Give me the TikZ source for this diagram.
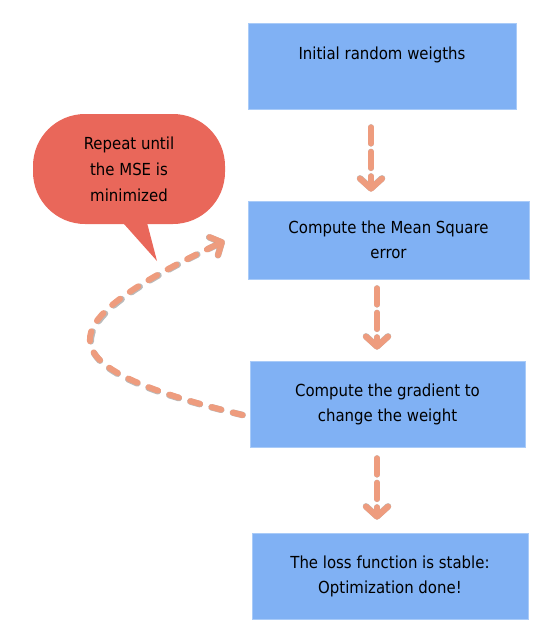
\documentclass[tikz,border=0pt]{standalone}
\usepackage{fontspec}
\setmainfont{DejaVu Sans Condensed}
\usetikzlibrary{arrows.meta}
\definecolor{boxblue}{HTML}{80B1F4}
\definecolor{boxedge}{HTML}{A9CBF8}
\definecolor{bubred}{HTML}{E9675A}
\definecolor{arrorange}{HTML}{EE9C7E}
\tikzset{
  flowbox/.style={fill=boxblue, draw=boxedge, line width=0.8pt, align=center, inner sep=0pt,
    font=\fontsize{16.6}{25}\selectfont},
  vflow/.style={draw=arrorange, line width=6pt, line cap=round, dash pattern=on 16pt off 8.5pt,
    -{Straight Barb[length=10pt,width=22pt,line cap=round,line join=round]}},
  vshadow/.style={draw=black!60, opacity=0.45, line width=6.5pt, line cap=round, dash pattern=on 16pt off 8.5pt,
    -{Straight Barb[length=10pt,width=22pt,line cap=round,line join=round]}},
  loopflow/.style={draw=arrorange, line width=6pt, line cap=round, dash pattern=on 10pt off 12pt,
    -{Straight Barb[length=9pt,width=20pt,line cap=round,line join=round]}},
  loopshadow/.style={draw=black!60, opacity=0.45, line width=6.5pt, line cap=round, dash pattern=on 10pt off 12pt,
    -{Straight Barb[length=9pt,width=20pt,line cap=round,line join=round]}},
}
\begin{document}
\begin{tikzpicture}[x=1pt,y=-1pt]
\useasboundingbox (0,0) rectangle (554,640);
% boxes
\node[flowbox, minimum width=268pt, minimum height=86pt] (b1) at (382,66) {Initial random weigths\\\mbox{}};
\node[flowbox, minimum width=281pt, minimum height=78pt] (b2) at (388.5,240) {Compute the Mean Square\\error};
\node[flowbox, minimum width=275pt, minimum height=86pt] (b3) at (387.5,404) {Compute the gradient to\\change the weight};
\node[flowbox, minimum width=276pt, minimum height=86pt] (b4) at (390,576) {The loss function is stable:\\Optimization done!};
% bubble
\fill[bubred] (116,215) -- (157,261) -- (145,215) -- cycle;
\node[fill=bubred, rounded corners=52pt, minimum width=192pt, minimum height=110pt, align=center,
  inner sep=0pt, font=\fontsize{16.6}{26}\selectfont] (bub) at (129,169) {Repeat until\\the MSE is\\minimized};
% arrow end points
\coordinate (a1s) at ([xshift=-11pt,yshift=-18pt]b1.south);
\coordinate (a1e) at ([xshift=-17.5pt,yshift=9pt]b2.north);
\coordinate (a2s) at ([xshift=-11.5pt,yshift=-9pt]b2.south);
\coordinate (a2e) at ([xshift=-10.5pt,yshift=11pt]b3.north);
\coordinate (a3s) at ([xshift=-10.5pt,yshift=-11pt]b3.south);
\coordinate (a3e) at ([xshift=-13pt,yshift=13pt]b4.north);
\coordinate (ls) at ([xshift=-7pt,yshift=-11pt]b3.west);
\coordinate (le) at ([xshift=-23pt,yshift=-1pt]b2.west);
% shadows
\begin{scope}[shift={(1.2,2)}]
\draw[vshadow] (a1s) -- (a1e);
\draw[vshadow] (a2s) -- (a2e);
\draw[vshadow] (a3s) -- (a3e);
\draw[loopshadow] (ls) .. controls (42,366) and (44,326) .. (le);
\end{scope}
% arrows
\draw[vflow] (a1s) -- (a1e);
\draw[vflow] (a2s) -- (a2e);
\draw[vflow] (a3s) -- (a3e);
\draw[loopflow] (ls) .. controls (42,366) and (44,326) .. (le);
\end{tikzpicture}
\end{document}
